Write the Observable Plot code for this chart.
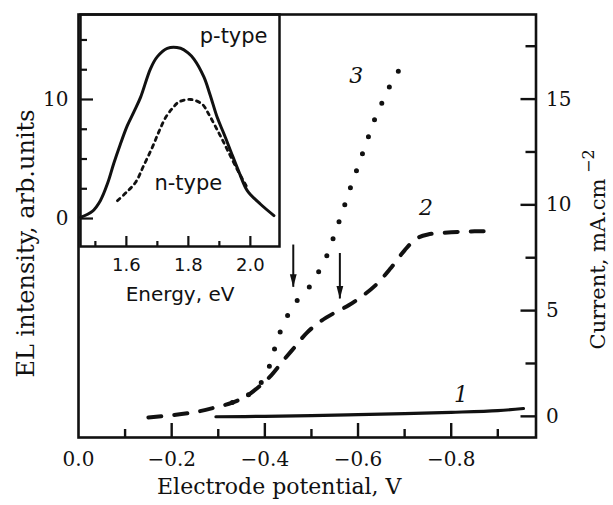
<!DOCTYPE html>
<html>
<head>
<meta charset="utf-8">
<script src="https://cdn.jsdelivr.net/npm/d3@7"></script>
<script src="https://cdn.jsdelivr.net/npm/@observablehq/plot@0.6"></script>
<style>
html, body { margin: 0; padding: 0; background: #fff; }
#wrap { position: relative; width: 613px; height: 505px; }
#wrap svg { position: absolute; left: 0; top: 0; }
</style>
</head>
<body>
<div id="wrap"></div>
<script>
// ---- main chart data: current vs electrode potential ----
const curve1Potential = [-0.295, -0.40, -0.50, -0.60, -0.70, -0.80, -0.90, -0.955];
const curve1Current   = [-0.02, 0.00, 0.03, 0.08, 0.13, 0.19, 0.27, 0.37];

const curve2Potential = [-0.15, -0.20, -0.25, -0.29, -0.33, -0.36, -0.39, -0.41, -0.44, -0.465, -0.49, -0.52, -0.55, -0.58, -0.61, -0.64, -0.67, -0.70, -0.725, -0.75, -0.80, -0.85, -0.89];
const curve2Current   = [-0.05, 0.05, 0.2, 0.4, 0.65, 0.95, 1.45, 1.85, 2.65, 3.3, 3.95, 4.5, 4.9, 5.25, 5.7, 6.25, 7.0, 7.85, 8.4, 8.6, 8.7, 8.75, 8.75];

const curve3Potential = [-0.33, -0.36, -0.385, -0.405, -0.417, -0.428, -0.443, -0.463, -0.495, -0.517, -0.535, -0.548, -0.56, -0.573, -0.585, -0.598, -0.61, -0.622, -0.635, -0.651, -0.669, -0.69];
const curve3Current   = [0.65, 0.95, 1.4, 2.1, 2.9, 3.7, 4.5, 5.3, 6.1, 6.9, 7.7, 8.5, 9.25, 10.1, 10.9, 11.7, 12.45, 13.2, 14.0, 14.8, 15.65, 16.45];

const curveLabels = ["1", "2", "3"];
const curveLabelPotential = [-0.821, -0.746, -0.596];
const curveLabelCurrent = [0.99, 9.83, 16.1];

const arrowPotential = [-0.461, -0.561];
const arrowTop = [8.1, 7.7];
const arrowTip = [6.1, 5.55];

const xMajorTicks = [-0.2, -0.4, -0.6, -0.8];
const xMinorTicks = [-0.1, -0.3, -0.5, -0.7, -0.9];
const xLabelValues = [0, -0.2, -0.4, -0.6, -0.8];
const xTickLabels = ["0.0", "\u22120.2", "\u22120.4", "\u22120.6", "\u22120.8"];
const yMajorTicks = [0, 5, 10, 15];
const yMinorTicks = [2.5, 7.5, 12.5, 17.5];
const yTickLabels = ["0", "5", "10", "15"];

// ---- inset data: EL spectra ----
const pTypeEnergy = [1.452, 1.49, 1.516, 1.54, 1.559, 1.58, 1.603, 1.625, 1.646, 1.678, 1.70, 1.732, 1.775, 1.80, 1.818, 1.85, 1.87, 1.893, 1.915, 1.936, 1.965, 1.99, 2.033, 2.076];
const pTypeEL     = [0.1, 0.6, 1.5, 3.0, 4.6, 6.2, 7.8, 9.0, 10.2, 12.6, 13.6, 14.3, 14.3, 13.9, 13.4, 11.9, 10.4, 8.5, 7.1, 5.7, 3.8, 2.35, 1.2, 0.25];
const nTypeEnergy = [1.571, 1.60, 1.63, 1.655, 1.684, 1.705, 1.727, 1.75, 1.77, 1.808, 1.845, 1.865, 1.888, 1.91, 1.931, 1.96, 1.99];
const nTypeEL     = [1.5, 2.2, 3.05, 4.4, 6.0, 7.3, 8.5, 9.3, 9.8, 10.0, 9.6, 8.8, 7.7, 6.6, 5.5, 4.0, 2.6];

const typeLabels = ["p-type", "n-type"];
const typeLabelEnergy = [1.946, 1.800];
const typeLabelEL = [15.3, 3.0];

const insetXMajor = [1.6, 1.8, 2.0];
const insetXMinor = [1.5, 1.7, 1.9];
const insetXLabels = ["1.6", "1.8", "2.0"];
const insetYMajor = [0, 10];
const insetYMinor = [2.5, 5, 7.5, 12.5, 15];
const insetYLabels = ["0", "10"];

const rows = (xs, ys) => xs.map((x, i) => ({x, y: ys[i]}));
const serif = "DejaVu Serif";
const sans = "DejaVu Sans";
const ink = "#111";

const W = 613, H = 505;
const mL = 78, mR = 77.5, mT = 14, mB = 68;
const fw = W - mL - mR, fh = H - mT - mB;

const arrowHead = {
  draw(context) {
    context.moveTo(0, 0);
    context.lineTo(-3.4, -13);
    context.lineTo(3.4, -13);
    context.closePath();
  }
};

const main = Plot.plot({
  width: W, height: H,
  marginLeft: mL, marginRight: mR, marginTop: mT, marginBottom: mB,
  x: {domain: [0, -0.982], axis: null},
  y: {domain: [-1, 19], axis: null},
  style: {fontFamily: serif, background: "transparent", color: ink},
  marks: [
    Plot.frame({stroke: ink, strokeWidth: 2.6}),
    Plot.tickX(xMajorTicks, {x: d => d, insetTop: fh - 14, stroke: ink, strokeWidth: 2.4}),
    Plot.tickX(xMinorTicks, {x: d => d, insetTop: fh - 8, stroke: ink, strokeWidth: 2.4}),
    Plot.tickY(yMajorTicks, {y: d => d, insetLeft: fw - 15, stroke: ink, strokeWidth: 2.4}),
    Plot.tickY(yMinorTicks, {y: d => d, insetLeft: fw - 10, stroke: ink, strokeWidth: 2.4}),
    Plot.text(xLabelValues, {x: d => d, text: xTickLabels, frameAnchor: "bottom", dy: 28, fontSize: 20, fill: ink}),
    Plot.text(yMajorTicks, {y: d => d, text: yTickLabels, frameAnchor: "right", dx: 10, textAnchor: "start", fontSize: 20, fill: ink}),
    Plot.text(["Electrode potential, V"], {text: d => d, frameAnchor: "bottom", dx: -28, dy: 56, fontSize: 22, fill: ink}),
    Plot.text(["EL intensity, arb.units"], {text: d => d, frameAnchor: "left", textAnchor: "middle", rotate: -90, dx: -52, dy: 17.5, fontSize: 24, fill: ink}),
    Plot.text(["Current, mA.cm"], {text: d => d, frameAnchor: "right", textAnchor: "middle", rotate: -90, dx: 62, dy: 38, fontSize: 21, fill: ink}),
    Plot.text(["\u22122"], {text: d => d, frameAnchor: "right", rotate: -90, dx: 53, dy: -53, textAnchor: "start", fontSize: 16, fill: ink}),
    Plot.line(rows(curve1Potential, curve1Current), {x: "x", y: "y", stroke: ink, strokeWidth: 3.2, curve: "catmull-rom"}),
    Plot.line(rows(curve2Potential, curve2Current), {x: "x", y: "y", stroke: ink, strokeWidth: 4, strokeDasharray: "13,13", strokeLinecap: "round", curve: "catmull-rom"}),
    Plot.line(rows(curve3Potential, curve3Current), {x: "x", y: "y", stroke: ink, strokeWidth: 5, strokeDasharray: "0,18", strokeLinecap: "round", curve: "catmull-rom"}),
    Plot.text(curveLabels, {x: curveLabelPotential, y: curveLabelCurrent, text: d => d, fontStyle: "italic", fontSize: 22, fill: ink}),
    Plot.ruleX(arrowPotential, {x: d => d, y1: arrowTop, y2: arrowTip, stroke: ink, strokeWidth: 2}),
    Plot.dot(arrowPotential, {x: d => d, y: arrowTip, symbol: arrowHead, fill: ink, stroke: "none"})
  ]
});

const iL = 80, iR = W - 279, iT = 14, iB = H - 246;
const ifw = W - iL - iR, ifh = H - iT - iB;

const inset = Plot.plot({
  width: W, height: H,
  marginLeft: iL, marginRight: iR, marginTop: iT, marginBottom: iB,
  x: {domain: [1.452, 2.094], axis: null},
  y: {domain: [-2.35, 17.14], axis: null},
  style: {fontFamily: sans, background: "transparent", color: ink},
  marks: [
    Plot.frame({stroke: ink, strokeWidth: 2.5}),
    Plot.tickX(insetXMajor, {x: d => d, insetTop: ifh - 10, stroke: ink, strokeWidth: 2.2}),
    Plot.tickX(insetXMinor, {x: d => d, insetTop: ifh - 5, stroke: ink, strokeWidth: 2.2}),
    Plot.tickY(insetYMajor, {y: d => d, insetRight: ifw - 13, stroke: ink, strokeWidth: 2.2}),
    Plot.tickY(insetYMinor, {y: d => d, insetRight: ifw - 7, stroke: ink, strokeWidth: 2.2}),
    Plot.text(insetXMajor, {x: d => d, text: insetXLabels, frameAnchor: "bottom", dy: 24, fontSize: 18, fill: ink}),
    Plot.text(["Energy, eV"], {text: d => d, frameAnchor: "bottom", dy: 54, fontSize: 20, fill: ink}),
    Plot.text(insetYMajor, {y: d => d, text: insetYLabels, frameAnchor: "left", dx: -12, textAnchor: "end", fontSize: 20, fontFamily: serif, fill: ink}),
    Plot.line(rows(pTypeEnergy, pTypeEL), {x: "x", y: "y", stroke: ink, strokeWidth: 3, curve: "catmull-rom"}),
    Plot.line(rows(nTypeEnergy, nTypeEL), {x: "x", y: "y", stroke: ink, strokeWidth: 2.8, strokeDasharray: "3.5,4.5", curve: "catmull-rom"}),
    Plot.text(typeLabels, {x: typeLabelEnergy, y: typeLabelEL, text: d => d, fontSize: 21, fill: ink})
  ]
});

const wrap = document.getElementById("wrap");
wrap.appendChild(main);
wrap.appendChild(inset);
</script>
</body>
</html>
